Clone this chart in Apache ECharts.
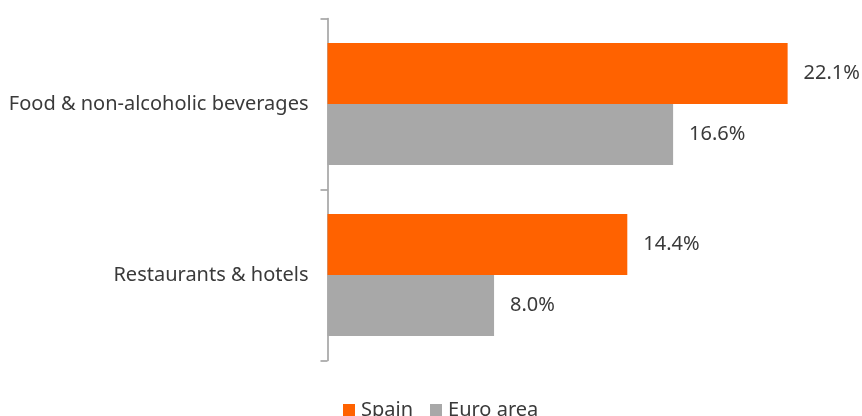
<!DOCTYPE html>
<html>
<head>
<meta charset="utf-8">
<script src="https://cdn.jsdelivr.net/npm/echarts@6/dist/echarts.min.js"></script>
<style>
  html, body { margin: 0; padding: 0; background: #fff; }
  #chart { width: 862px; height: 416px; }
</style>
</head>
<body>
<div id="chart"></div>
<script>
// Price change by category, Spain vs euro area (%)
const categories = ['Food & non-alcoholic beverages', 'Restaurants & hotels'];
const spain = [22.1, 14.4];
const euroArea = [16.6, 8.0];
const seriesNames = ['Spain', 'Euro area'];

const FONT = '"Noto Sans", sans-serif';
const TEXT = '#3a3a3a';
const chart = echarts.init(document.getElementById('chart'), null, { renderer: 'canvas' });

const labelStyle = {
  show: true,
  position: 'right',
  distance: 16,
  color: TEXT,
  fontFamily: FONT,
  fontSize: 20,
  formatter: p => p.value.toFixed(1) + '%'
};

chart.setOption({
  animation: false,
  textStyle: { fontFamily: FONT },
  grid: { left: 327.5, top: 18.5, height: 342, right: 14 },
  xAxis: {
    type: 'value',
    min: 0,
    max: 25,
    show: false
  },
  yAxis: {
    type: 'category',
    data: categories,
    inverse: true,
    axisLine: { show: true, lineStyle: { color: '#9a9a9a', width: 1.5 } },
    axisTick: { show: true, length: 7, lineStyle: { color: '#9a9a9a', width: 1.5 } },
    axisLabel: { color: TEXT, fontSize: 20, fontFamily: FONT, margin: 19 }
  },
  legend: {
    data: seriesNames,
    top: 400,
    left: 343,
    padding: 0,
    itemWidth: 12,
    itemHeight: 12,
    itemGap: 17,
    icon: 'rect',
    textStyle: { color: TEXT, fontSize: 20, fontFamily: FONT, padding: [0, 0, 0, 1] }
  },
  series: [
    {
      name: seriesNames[0],
      type: 'bar',
      data: spain,
      barGap: '0%',
      barCategoryGap: '28.6%',
      itemStyle: { color: '#FF6200' },
      label: labelStyle
    },
    {
      name: seriesNames[1],
      type: 'bar',
      data: euroArea,
      itemStyle: { color: '#A8A8A8' },
      label: labelStyle
    }
  ]
});
</script>
</body>
</html>
